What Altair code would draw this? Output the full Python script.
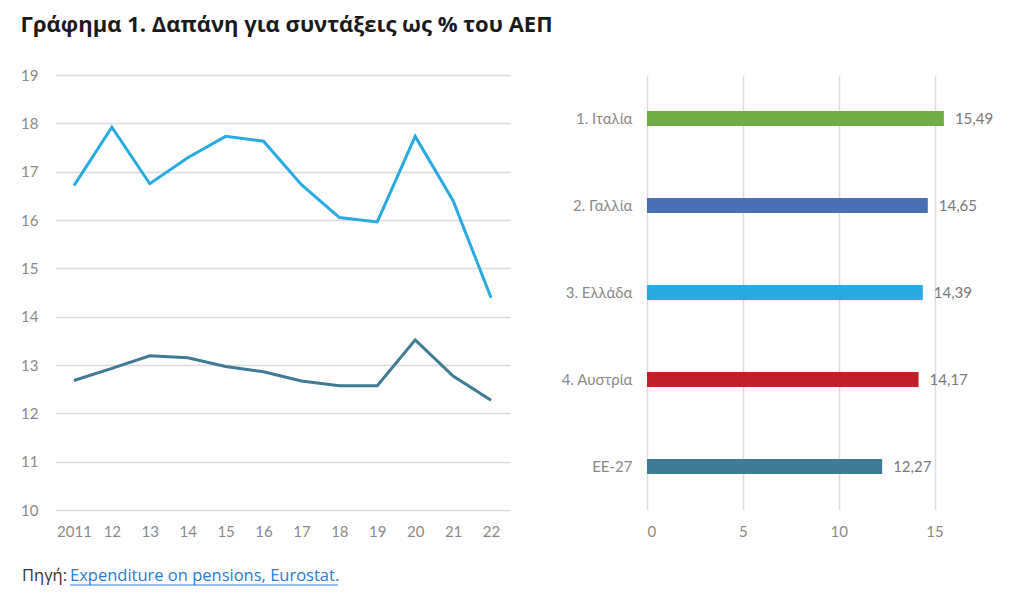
import altair as alt
import pandas as pd

# ---- data ----
years = ["2011", "12", "13", "14", "15", "16", "17", "18", "19", "20", "21", "22"]
greece = [16.71, 17.92, 16.75, 17.29, 17.73, 17.63, 16.73, 16.05, 15.96, 17.73, 16.40, 14.39]
eu27 = [12.68, 12.93, 13.19, 13.15, 12.97, 12.86, 12.67, 12.57, 12.57, 13.52, 12.77, 12.27]
series_names = ["Ελλάδα", "ΕΕ-27"]
series_colors = ["#29ABE2", "#3F7B94"]

countries = ["1. Ιταλία", "2. Γαλλία", "3. Ελλάδα", "4. Αυστρία", "EE-27"]
values = [15.49, 14.65, 14.39, 14.17, 12.27]
bar_colors = ["#70AD47", "#4A6FB5", "#29ABE2", "#C0202A", "#3F7B94"]

title_text = "Γράφημα 1. Δαπάνη για συντάξεις ως % του ΑΕΠ"
source_label = "Πηγή:"
source_link = "Expenditure on pensions, Eurostat."

FONT = "Lato"
LABEL_COLOR = "#8a8a8a"
GRID_COLOR = "#dcdcdc"

# ---- left: line chart ----
df_line = pd.DataFrame({
    "year": years * 2,
    "value": greece + eu27,
    "series": [series_names[0]] * len(years) + [series_names[1]] * len(years),
})

lines = alt.Chart(df_line).mark_line(strokeWidth=3).encode(
    x=alt.X("year:O", sort=years,
            axis=alt.Axis(title=None, labelAngle=0, ticks=False, domain=False, grid=False,
                          labelPadding=14)),
    y=alt.Y("value:Q", scale=alt.Scale(domain=[10, 19], nice=False, zero=False),
            axis=alt.Axis(title=None, values=list(range(10, 20)), ticks=False, domain=False,
                          grid=True, gridColor=GRID_COLOR, gridWidth=1.5, labelPadding=17)),
    color=alt.Color("series:N", scale=alt.Scale(domain=series_names, range=series_colors),
                    legend=None),
)

src1 = alt.Chart(pd.DataFrame({"t": [source_label]})).mark_text(
    align="left", baseline="alphabetic", fontSize=16.5, font="Open Sans", color="#333333"
).encode(text="t:N", x=alt.value(-33), y=alt.value(506))

src2 = alt.Chart(pd.DataFrame({"t": [source_link]})).mark_text(
    align="left", baseline="alphabetic", fontSize=16.5, font="Open Sans", color="#2B7BD0"
).encode(text="t:N", x=alt.value(15), y=alt.value(506))

underline = alt.Chart(pd.DataFrame({"t": [source_link]})).mark_rule(
    color="#2B7BD0", strokeWidth=1
).encode(x=alt.value(15), x2=alt.value(283), y=alt.value(510))

left = alt.layer(lines, src1, src2, underline).properties(width=455, height=435)

# ---- right: bar chart ----
df_bar = pd.DataFrame({
    "country": countries,
    "value": values,
    "label": [f"{v:.2f}".replace(".", ",") for v in values],
})

bars = alt.Chart(df_bar).mark_bar(size=15).encode(
    y=alt.Y("country:N", sort=countries,
            axis=alt.Axis(title=None, ticks=False, domain=False, grid=False, labelPadding=15)),
    x=alt.X("value:Q", scale=alt.Scale(domain=[0, 18], nice=False),
            axis=alt.Axis(title=None, values=[0, 5, 10, 15], ticks=False, domain=False,
                          grid=True, gridColor=GRID_COLOR, gridWidth=1.5, labelPadding=14)),
    color=alt.Color("country:N", scale=alt.Scale(domain=countries, range=bar_colors),
                    legend=None),
)

bar_text = bars.mark_text(align="left", baseline="middle", dx=11, fontSize=15,
                          font=FONT).encode(text="label:N", color=alt.value("#7a7a7a"))

right = alt.layer(bars, bar_text).properties(width=345, height=435)

chart = alt.hconcat(left, right, spacing=50).resolve_scale(color="independent").properties(
    title=alt.TitleParams(title_text, anchor="start", frame="bounds", fontSize=22,
                          font="Open Sans", fontWeight="bold", color="#1a1a1a", offset=31),
    padding={"left": 12, "top": 6, "right": 5, "bottom": 5},
).configure_view(stroke=None).configure_axis(
    labelFont=FONT, labelFontSize=15, labelColor=LABEL_COLOR
)

chart.save("out.html", embed_options={"renderer": "svg", "actions": False})
